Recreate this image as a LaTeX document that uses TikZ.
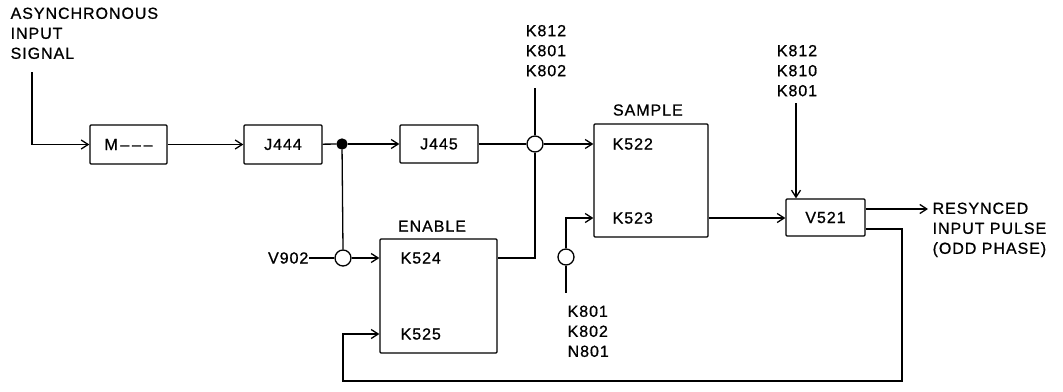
\documentclass[tikz,border=0pt]{standalone}
\usepackage{fontspec}
\setmainfont[LetterSpace=6, FakeBold=0.8]{Liberation Sans}
\usetikzlibrary{arrows.meta}

\begin{document}
\begin{tikzpicture}[x=1pt, y=-1pt, line width=1.3pt,
    every node/.style={font=\fontsize{16}{16}\selectfont, inner sep=0pt},
    unitbox/.style={draw, rectangle, rounded corners=1pt},
    junction/.style={draw, circle, minimum size=16pt, fill=white},
    tag/.style={align=left, font=\fontsize{16}{20}\selectfont},
    flow/.style={-{Straight Barb[length=7pt, width=9pt]}}]

    % Fix the page to the size of the reference
    \useasboundingbox (0,0) rectangle (1063,391);

    % Blocks
    \node[unitbox, minimum width=77pt, minimum height=39pt] (M) at (128.5,144.5) {M\,–\,–\,–};
    \node[unitbox, minimum width=78pt, minimum height=39pt] (J444) at (283,144.5) {J444};
    \node[unitbox, minimum width=78pt, minimum height=38pt] (J445) at (439,144) {J445};
    \node[unitbox, minimum width=114pt, minimum height=113pt] (sample) at (651,180.5) {};
    \node[unitbox, minimum width=117pt, minimum height=114pt] (enable) at (438.5,296) {};
    \node[unitbox, minimum width=79pt, minimum height=37pt] (V521) at (825.5,217.5) {V521};

    % Block titles and inputs
    \node[anchor=south west] at (sample.north west) [xshift=19pt, yshift=7pt] {SAMPLE};
    \node[anchor=south west] at (enable.north west) [xshift=18pt, yshift=6pt] {ENABLE};
    \node[anchor=west] (K522) at (612,144) {K522};
    \node[anchor=west] (K523) at (612,218) {K523};
    \node[anchor=west] (K524) at (400,258) {K524};
    \node[anchor=west] (K525) at (400,334) {K525};

    % Gates and tap point
    \node[junction] (gateA) at (535,144) {};
    \node[junction] (gateB) at (343,258) {};
    \node[junction] (gateC) at (566,257) {};
    \node[draw, circle, fill, minimum size=10pt] (tap) at (342,144) {};

    % Outside signals
    \node[tag, anchor=north west] (async) at (10,7) {ASYNCHRONOUS\\INPUT\\SIGNAL};
    \node[tag, anchor=south] (selA) at (546,77) {K812\\K801\\K802};
    \node[tag, anchor=south] (selB) at (797,97) {K812\\K810\\K801};
    \node[tag, anchor=north west] (selC) at (567,305) {K801\\K802\\N801};
    \node[anchor=east] (V902) at (309,258) {V902};
    \node[tag, anchor=north west] (resync) at (932,202) {RESYNCED\\INPUT PULSE\\(ODD PHASE)};

    \coordinate (asyncEnd) at (32,72);
    \coordinate (selAEnd) at (535,88);
    \coordinate (selBEnd) at (796,103);
    \coordinate (selCEnd) at (566,293);
    \coordinate (outEnd) at (928,209);
    \coordinate (loopR) at (902,381);
    \coordinate (loopL) at (343,381);

    % Main signal path
    \draw[flow] (asyncEnd) |- (M.west);
    \draw[flow] (M) -- (J444);
    \draw (J444) -- (tap);
    \draw[flow] (tap) -- (J445);
    \draw (J445) -- (gateA);
    \draw[flow] (gateA.east) -- (gateA.east -| sample.west);
    \draw (selAEnd) -- (gateA.north);
    \draw (gateA.south) |- (enable.east |- K524);

    % Enable inputs
    \draw (tap) -- (gateB.north);
    \draw (V902) -- (gateB.west);
    \draw[flow] (gateB.east) -- (gateB.east -| enable.west);

    % Sample inputs
    \draw[flow] (gateC.north) |- (sample.west |- K523);
    \draw (gateC.south) -- (selCEnd);

    % Resync stage
    \draw[flow] (sample.east |- K523) -- (V521.west |- K523);
    \draw[flow] (selBEnd) -- (selBEnd |- V521.north);
    \draw[flow] (V521.east |- outEnd) -- (outEnd);

    % Feedback to enable
    \draw[flow] (V521.east |- 0,229) -| (loopR) -- (loopL) |- (enable.west |- K525);

\end{tikzpicture}
\end{document}
